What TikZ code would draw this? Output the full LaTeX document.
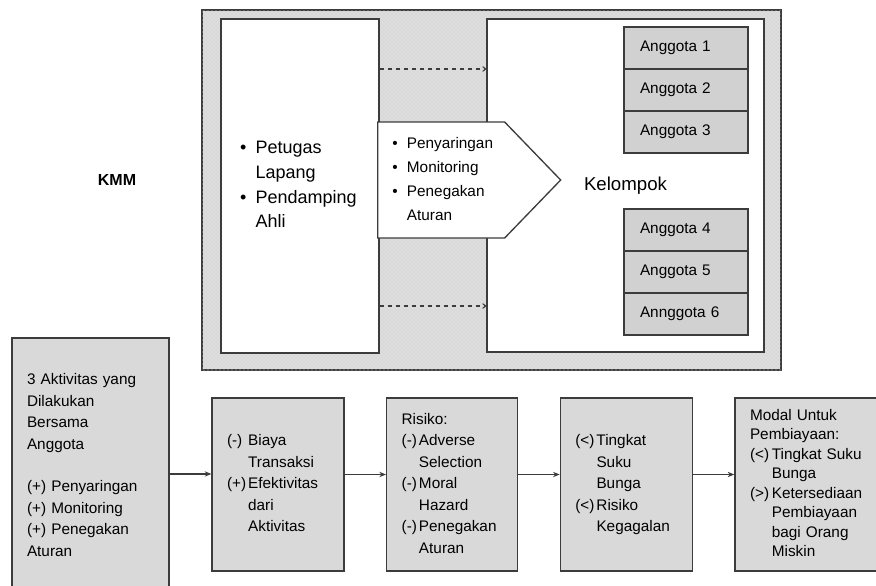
\documentclass[tikz,border=0pt]{standalone}
\usepackage{fontspec}
\setmainfont{Liberation Sans}
\usepackage{xcolor}
\definecolor{kmmline}{RGB}{60,60,60}
\usetikzlibrary{shapes.symbols, arrows.meta, positioning, patterns}

\begin{document}
\begin{tikzpicture}[x=0.75pt, y=-0.75pt,
  framebox/.style={draw=kmmline, line width=0.8pt, fill=black!13,
               postaction={pattern=crosshatch dots, pattern color=black!22}},
  whitebox/.style={rectangle, draw=kmmline, line width=1pt, fill=white, inner sep=0pt},
  memberbox/.style={rectangle, draw=kmmline, line width=1pt, fill=black!18,
               minimum height=31.5pt, text width=69pt, inner xsep=12pt, align=left,
               outer sep=0pt, font=\fontsize{11.5}{13}\selectfont},
  flowbox/.style={rectangle, draw=kmmline, line width=1pt, fill=black!15,
               inner xsep=11.25pt, align=left, minimum height=129.75pt,
               font=\fontsize{11.5}{16.1}\selectfont},
  arrowbox/.style={signal, signal to=east, signal pointer angle=92, draw=kmmline,
               line width=1pt, fill=white, minimum width=137.25pt, minimum height=87pt},
  arr/.style={-{Stealth[length=5pt, width=4pt]}, line width=1pt, kmmline},
  dasharr/.style={-{To[length=3pt, width=4pt]}, dashed, line width=0.8pt, kmmline}
]
\useasboundingbox (0,0) rectangle (876,586);

% upper part
\draw[framebox] (202,10) rectangle (781,370);
\node[font=\bfseries\fontsize{12}{14}\selectfont] (kmm) at (117,180) {KMM};
\node[whitebox, minimum width=118.5pt, minimum height=250.5pt, text width=90pt,
      inner xsep=14.25pt, align=left, font=\fontsize{13.5}{18.5}\selectfont] (staff) at (300,186)
  {\begin{tabular}{@{}l@{\hspace{7pt}}l@{}}
   \textbullet & Petugas\\ & Lapang\\ \textbullet & Pendamping\\ & Ahli
   \end{tabular}};
\node[whitebox, minimum width=207.75pt, minimum height=249.75pt,
      font=\fontsize{14}{16}\selectfont] (group) at (625.5,185.5) {Kelompok};
\node[arrowbox, anchor=west] (filter) at (377,180) {};
\node[anchor=west, inner sep=0pt, font=\fontsize{11.5}{18}\selectfont] (filtertxt)
  at ([xshift=11.25pt]filter.west)
  {\begin{tabular}{@{}l@{\hspace{7pt}}l@{}}
   \textbullet & Penyaringan\\ \textbullet & Monitoring\\ \textbullet & Penegakan\\ & Aturan
   \end{tabular}};

\node[memberbox] (m1) at (686,48) {Anggota 1};
\node[memberbox, below=0pt of m1] (m2) {Anggota 2};
\node[memberbox, below=0pt of m2] (m3) {Anggota 3};
\node[memberbox] (m4) at (686,230) {Anggota 4};
\node[memberbox, below=0pt of m4] (m5) {Anggota 5};
\node[memberbox, below=0pt of m5] (m6) {Annggota 6};

\draw[dasharr] ([yshift=87.75pt]staff.east) -- ([yshift=87.75pt]staff.east -| group.west);
\draw[dasharr] ([yshift=-90pt]staff.east) -- ([yshift=-90pt]staff.east -| group.west);

% lower part
\node[flowbox, text width=95.25pt, minimum height=190.5pt] (b1) at (90.5,465)
  {3 Aktivitas yang\\Dilakukan\\Bersama\\Anggota\\[16.1pt]
   (+) Penyaringan\\(+) Monitoring\\(+) Penegakan\\Aturan};
\node[flowbox, text width=76.5pt] (b2) at (278,484.5)
  {\begin{tabular}{@{}l@{\hspace{1.5pt}}l@{}}
   (-) & Biaya\\ & Transaksi\\ (+) & Efektivitas\\ & dari\\ & Aktivitas
   \end{tabular}};
\node[flowbox, text width=75.75pt, right=31pt of b2] (b3)
  {\begin{tabular}{@{}l@{\hspace{1.5pt}}l@{}}
   \multicolumn{2}{@{}l@{}}{Risiko:}\\
   (-) & Adverse\\ & Selection\\ (-) & Moral\\ & Hazard\\ (-) & Penegakan\\ & Aturan
   \end{tabular}};
\node[flowbox, text width=76.5pt, right=31pt of b3] (b4)
  {\begin{tabular}{@{}l@{\hspace{1.5pt}}l@{}}
   (<) & Tingkat\\ & Suku\\ & Bunga\\ (<) & Risiko\\ & Kegagalan
   \end{tabular}};
\node[flowbox, text width=87pt, right=31pt of b4, font=\fontsize{11.5}{14.6}\selectfont] (b5)
  {\begin{tabular}{@{}l@{\hspace{2pt}}l@{}}
   \multicolumn{2}{@{}l@{}}{Modal Untuk}\\
   \multicolumn{2}{@{}l@{}}{Pembiayaan:}\\
   (<) & Tingkat Suku\\ & Bunga\\ (>) & Ketersediaan\\ & Pembiayaan\\ & bagi Orang\\ & Miskin
   \end{tabular}};

\draw[arr] ([yshift=7.9pt]b2.west -| b1.east) -- ([yshift=7.9pt]b2.west);
\draw[arr] ([yshift=7.5pt]b2.east) -- ([yshift=7.5pt]b3.west);
\draw[arr] ([yshift=7.5pt]b3.east) -- ([yshift=7.5pt]b4.west);
\draw[arr] ([yshift=7.5pt]b4.east) -- ([yshift=7.5pt]b5.west);
\end{tikzpicture}
\end{document}
